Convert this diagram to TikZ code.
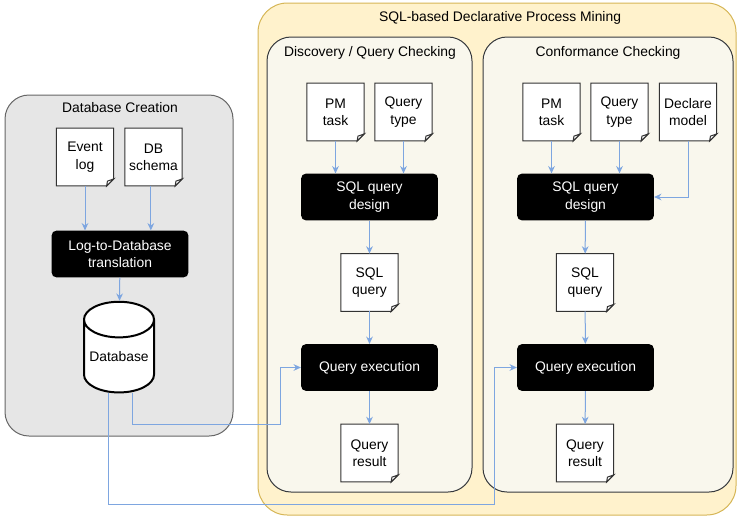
\documentclass[tikz,border=0pt]{standalone}
\usepackage{fontspec}
\setmainfont{Liberation Sans}
\usetikzlibrary{shapes.geometric,arrows.meta,backgrounds}
\definecolor{flowblue}{HTML}{7EA6E0}
\definecolor{grayfill}{HTML}{E6E6E6}
\definecolor{grayline}{HTML}{666666}
\definecolor{yellowfill}{HTML}{FFF2CC}
\definecolor{yellowline}{HTML}{D6B656}
\definecolor{creamfill}{HTML}{F9F7ED}
\definecolor{creamline}{HTML}{36393D}
\tikzset{every node/.style={font=\fontsize{10.4}{13}\selectfont, inner sep=0pt},
  docnote/.style={minimum width=42.5pt, minimum height=43pt, align=center},
  docline/.style={draw=black!80, fill=white, line width=0.75pt},
  task/.style={fill=black, rounded corners=3.5pt, text=white, align=center, minimum width=102.5pt, minimum height=35pt},
  store/.style={cylinder, shape border rotate=90, aspect=0.6, draw, line width=1.5pt, fill=white, minimum width=52.5pt, minimum height=68pt},
  flow/.style={draw=flowblue, line width=0.75pt, -{Stealth[length=5.5pt,width=5pt]}},
  panel/.style={rounded corners=18pt, line width=0.75pt}}

\begin{document}
\begin{tikzpicture}[x=0.75pt,y=-0.75pt]
  \useasboundingbox (0,0) rectangle (738,519);
  % titles
  \node (creationTitle) at (120,108) {Database Creation};
  \node (miningTitle) at (500,18) {SQL-based Declarative Process Mining};
  \node (discTitle) at (370,53) {Discovery / Query Checking};
  \node (confTitle) at (608,53) {Conformance Checking};
  % database creation
  \node[docnote] (evlog) at (85,157) {Event\\log};
  \node[docnote] (dbschema) at (153.5,157) {DB\\schema};
  \node[task] (translate) at (120,254) {Log-to-Database\\translation};
  \node[store] (database) at (119,356.5) {Database};
  % discovery / query checking
  \node[docnote] (dPM) at (335.5,112) {PM\\task};
  \node[docnote] (dQT) at (403.5,112) {Query\\type};
  \node[task] (dDesign) at (369.5,197) {SQL query\\design};
  \node[docnote] (dSQL) at (369.5,282.5) {SQL\\query};
  \node[task] (dExec) at (369.5,367.5) {Query execution};
  \node[docnote] (dRes) at (369.5,453) {Query\\result};
  % conformance checking
  \node[docnote] (cPM) at (551.5,112) {PM\\task};
  \node[docnote] (cQT) at (619.5,112) {Query\\type};
  \node[docnote] (cDecl) at (688,112) {Declare\\model};
  \node[task] (cDesign) at (585.5,197) {SQL query\\design};
  \node[docnote] (cSQL) at (585,282.5) {SQL\\query};
  \node[task] (cExec) at (585.5,367.5) {Query execution};
  \node[docnote] (cRes) at (585,453) {Query\\result};

  \begin{scope}[on background layer]
    \draw[panel, fill=grayfill, draw=grayline] (5,95) rectangle (233,436);
    \draw[panel, rounded corners=22pt, fill=yellowfill, draw=yellowline] (258,3) rectangle (736,515);
    \draw[panel, fill=creamfill, draw=creamline] (267,37) rectangle (472,492);
    \draw[panel, fill=creamfill, draw=creamline] (483,37) rectangle (733,492);
    \foreach \n in {evlog,dbschema,dPM,dQT,dSQL,dRes,cPM,cQT,cDecl,cSQL,cRes} {
      \draw[docline] (\n.north west) -- (\n.north east) -- ([yshift=5.25pt]\n.south east)
        -- ([xshift=-5.25pt]\n.south east) -- (\n.south west) -- cycle;
      \draw[docline] ([yshift=5.25pt]\n.south east) -- ([xshift=-5.25pt]\n.south east)
        -- ([xshift=-4.6pt,yshift=3.6pt]\n.south east) -- cycle;
    }
  \end{scope}

  % connectors
  \draw[flow] (evlog) -- (evlog |- translate.north);
  \draw[flow] ([xshift=-2pt]dbschema.south) -- ([xshift=-2pt]dbschema.south |- translate.north);
  \draw[flow] (translate) -- (database);
  \draw[flow] (dPM) -- (dPM |- dDesign.north);
  \draw[flow] (dQT) -- (dQT |- dDesign.north);
  \draw[flow] (dDesign) -- (dSQL);
  \draw[flow] (dSQL) -- (dExec);
  \draw[flow] (dExec) -- (dRes);
  \draw[flow] (cPM) -- (cPM |- cDesign.north);
  \draw[flow] (cQT) -- (cQT |- cDesign.north);
  \draw[flow] (cDecl) |- (cDesign);
  \draw[flow] (cDesign) -- (cSQL);
  \draw[flow] (cSQL) -- (cExec);
  \draw[flow] (cExec) -- (cRes);
  \draw[flow] ([xshift=9.75pt]database.south) |- (280,424) |- (dExec);
  \draw[flow] ([xshift=-8.25pt]database.south) |- (494,504) |- (cExec);
\end{tikzpicture}
\end{document}
